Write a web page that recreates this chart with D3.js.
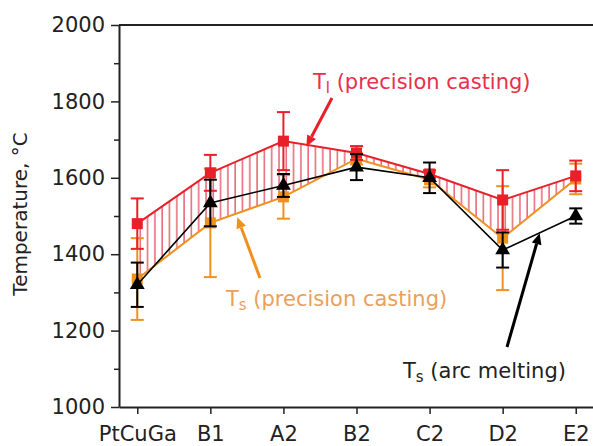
<!DOCTYPE html>
<html>
<head>
<meta charset="utf-8">
<script src="https://cdn.jsdelivr.net/npm/d3@7"></script>
<style>
  body { margin: 0; background: #fff; }
  svg text { font-family: "DejaVu Sans", Verdana, sans-serif; }
</style>
</head>
<body>
<div id="chart"></div>
<script>
// alloys on the x axis
var alloys = ["PtCuGa", "B1", "A2", "B2", "C2", "D2", "E2"];

// liquidus, precision casting (red)
var tlCast = [1480, 1613, 1696, 1665, 1610, 1542, 1605];
var tlCastErr = [66, 47, 76, 18, 10, 78, 40];

// solidus, precision casting (orange)
var tsCast = [1335, 1482, 1550, 1650, 1595, 1442, 1597];
var tsCastErr = [107, 142, 57, 15, 20, 136, 40];

// solidus, arc melting (black)
var tsArc = [1320, 1534, 1580, 1628, 1600, 1411, 1500];
var tsArcErr = [58, 61, 30, 34, 40, 46, 20];

var yTicks = [1000, 1200, 1400, 1600, 1800, 2000];
var yMinor = [1100, 1300, 1500, 1700, 1900];

var width = 593, height = 446;
var margin = {top: 25, right: -1, bottom: 39, left: 119};

var red = "#e8202a", orange = "#f0901e";

var svg = d3.select("#chart").append("svg")
    .attr("width", width)
    .attr("height", height);

var x = d3.scalePoint()
    .domain(alloys)
    .range([margin.left, width - margin.right])
    .padding(0.25);

var y = d3.scaleLinear()
    .domain([1000, 2000])
    .range([height - margin.bottom, margin.top]);

// hatch pattern for the gap between Tl and Ts
var defs = svg.append("defs");
defs.append("pattern")
    .attr("id", "hatch")
    .attr("patternUnits", "userSpaceOnUse")
    .attr("width", 7.3)
    .attr("height", 10)
    .attr("x", x(alloys[0]) + 2)
  .append("line")
    .attr("x1", 1).attr("x2", 1)
    .attr("y1", 0).attr("y2", 10)
    .attr("stroke", "#dc2a40")
    .attr("stroke-width", 1.1);

var area = d3.area()
    .x(function(d, i) { return x(alloys[i]); })
    .y0(function(d, i) { return y(tsCast[i]); })
    .y1(function(d) { return y(d); });

svg.append("path")
    .datum(tlCast)
    .attr("d", area)
    .attr("fill", "url(#hatch)");

// frame: top line
svg.append("line")
    .attr("x1", margin.left).attr("x2", width)
    .attr("y1", margin.top).attr("y2", margin.top)
    .attr("stroke", "#222").attr("stroke-width", 2);

// axes
svg.append("g")
    .attr("transform", "translate(" + margin.left + ",0)")
    .call(d3.axisLeft(y).tickValues(yTicks).tickSize(8).tickSizeOuter(0).tickPadding(6).tickFormat(d3.format("d")));
svg.append("g")
    .attr("transform", "translate(" + margin.left + ",0)")
    .call(d3.axisLeft(y).tickValues(yMinor).tickSize(5).tickSizeOuter(0).tickFormat(""))
    .select(".domain").remove();

svg.append("g")
    .attr("transform", "translate(0," + (height - margin.bottom) + ")")
    .call(d3.axisBottom(x).tickSize(7).tickSizeOuter(0).tickPadding(12));

svg.selectAll(".domain").attr("stroke", "#222").attr("stroke-width", 2);
svg.selectAll(".tick line").attr("stroke", "#222").attr("stroke-width", 1.5);
svg.selectAll(".tick text").attr("font-size", 21).attr("fill", "#222");

svg.append("text")
    .attr("transform", "translate(27," + (y(1500) - 2) + ") rotate(-90)")
    .attr("text-anchor", "middle")
    .attr("font-size", 20)
    .attr("fill", "#222")
    .text("Temperature, °C");

function drawSeries(vals, errs, color, lw, capW) {
  var g = svg.append("g");
  g.append("path")
    .datum(vals)
    .attr("fill", "none")
    .attr("stroke", color)
    .attr("stroke-width", lw)
    .attr("d", d3.line().x(function(d, i) { return x(alloys[i]); }).y(function(d) { return y(d); }));
  var eb = g.selectAll(".eb").data(vals).enter().append("g");
  eb.append("line")
    .attr("x1", function(d, i) { return x(alloys[i]); })
    .attr("x2", function(d, i) { return x(alloys[i]); })
    .attr("y1", function(d, i) { return y(d - errs[i]); })
    .attr("y2", function(d, i) { return y(d + errs[i]); })
    .attr("stroke", color).attr("stroke-width", 2);
  [-1, 1].forEach(function(s) {
    eb.append("line")
      .attr("x1", function(d, i) { return x(alloys[i]) - capW / 2; })
      .attr("x2", function(d, i) { return x(alloys[i]) + capW / 2; })
      .attr("y1", function(d, i) { return y(d + s * errs[i]); })
      .attr("y2", function(d, i) { return y(d + s * errs[i]); })
      .attr("stroke", color).attr("stroke-width", 2);
  });
  return g;
}

var gOr = drawSeries(tsCast, tsCastErr, orange, 2, 13);
gOr.selectAll(".m").data(tsCast).enter().append("rect")
    .attr("x", function(d, i) { return x(alloys[i]) - 5.5; })
    .attr("y", function(d) { return y(d) - 5.5; })
    .attr("width", 11).attr("height", 11)
    .attr("fill", orange);

var gRed = drawSeries(tlCast, tlCastErr, red, 2, 13);
gRed.selectAll(".m").data(tlCast).enter().append("rect")
    .attr("x", function(d, i) { return x(alloys[i]) - 5.5; })
    .attr("y", function(d) { return y(d) - 5.5; })
    .attr("width", 11).attr("height", 11)
    .attr("fill", red);

var gBlk = drawSeries(tsArc, tsArcErr, "#000", 1.6, 13);
gBlk.selectAll(".m").data(tsArc).enter().append("path")
    .attr("transform", function(d, i) { return "translate(" + x(alloys[i]) + "," + y(d) + ")"; })
    .attr("d", d3.symbol().type(d3.symbolTriangle).size(95))
    .attr("fill", "#000");

// annotations
function label(tx, ty, sub, rest, color) {
  var t = svg.append("text")
      .attr("x", tx).attr("y", ty)
      .attr("font-size", 21)
      .attr("fill", color);
  t.append("tspan").text("T");
  t.append("tspan").attr("font-size", 15).attr("dy", 4).text(sub);
  t.append("tspan").attr("dy", -4).text(" " + rest);
}
label(313, 89, "l", "(precision casting)", "#e8304a");
label(226, 306, "s", "(precision casting)", "#eba05a");
label(403, 378, "s", "(arc melting)", "#222");

function arrow(x1, y1, x2, y2, color) {
  var ang = Math.atan2(y2 - y1, x2 - x1);
  var len = 11, half = 5;
  var bx = x2 - len * Math.cos(ang), by = y2 - len * Math.sin(ang);
  svg.append("line")
    .attr("x1", x1).attr("y1", y1).attr("x2", bx).attr("y2", by)
    .attr("stroke", color).attr("stroke-width", 3);
  var px = -Math.sin(ang) * half, py = Math.cos(ang) * half;
  svg.append("path")
    .attr("d", "M" + x2 + "," + y2 + "L" + (bx + px) + "," + (by + py) + "L" + (bx - px) + "," + (by - py) + "Z")
    .attr("fill", color);
}
arrow(332, 98, x("A2") + 23, y(1682), red);
arrow(260, 278, x("B1") + 27, y(1497), orange);
arrow(507, 347, x("D2") + 37, y(1455), "#000");
</script>
</body>
</html>
